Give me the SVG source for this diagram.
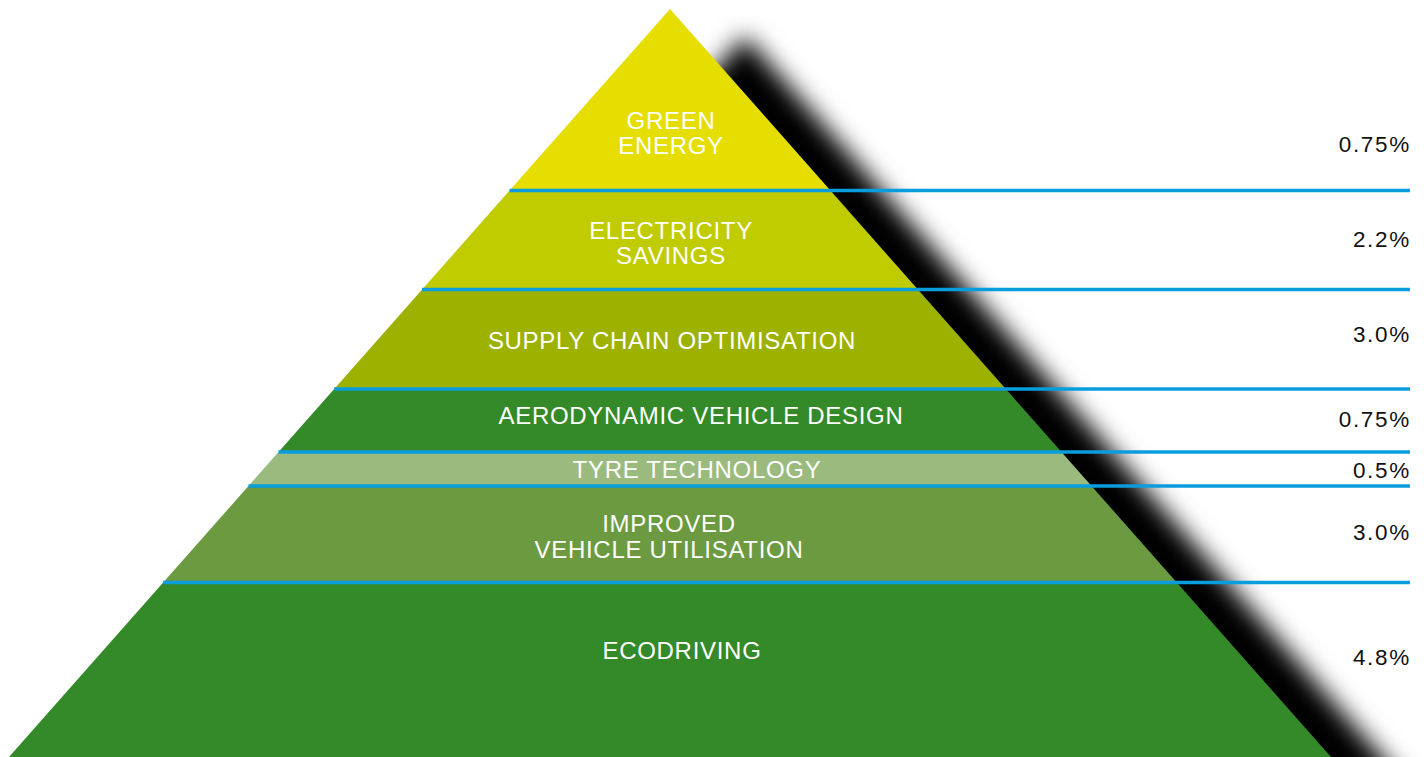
<svg xmlns="http://www.w3.org/2000/svg" width="1424" height="757" viewBox="0 0 1424 757">
  <defs>
    <filter id="blur" x="-20%" y="-20%" width="140%" height="140%">
      <feGaussianBlur stdDeviation="12"/>
    </filter>
    <clipPath id="tri">
      <polygon points="670,9 1331,757 9,757"/>
    </clipPath>
    <style>
      .lbl{font-family:"Liberation Sans",Arial,sans-serif;font-size:24px;fill:#ffffff;text-anchor:middle;letter-spacing:0.7px}
      .pct{font-family:"Liberation Sans",Arial,sans-serif;font-size:22.5px;fill:#111111;text-anchor:end;letter-spacing:1.7px}
      .sep{stroke:#0a9dde;stroke-width:3.5;fill:none}
    </style>
  </defs>
  <rect width="1424" height="757" fill="#ffffff"/>
  <polygon points="745,36 1406,784 84,784" fill="#000000" filter="url(#blur)"/>
  <g clip-path="url(#tri)">
    <rect id="band-green-energy" x="0" y="0" width="1424" height="191" fill="#e6de00"/>
    <rect id="band-electricity" x="0" y="190" width="1424" height="100" fill="#c0cc00"/>
    <rect id="band-supply" x="0" y="289" width="1424" height="100" fill="#9db100"/>
    <rect id="band-aero" x="0" y="389" width="1424" height="63" fill="#348a28"/>
    <rect id="band-tyre" x="0" y="452" width="1424" height="34" fill="#9bba7e"/>
    <rect id="band-improved" x="0" y="486" width="1424" height="97" fill="#6b9a40"/>
    <rect id="band-eco" x="0" y="582" width="1424" height="180" fill="#348a28"/>
  </g>
  <g id="connectors">
    <line class="sep" x1="509.6" y1="190.5" x2="1410" y2="190.5"/>
    <line class="sep" x1="422.1" y1="289.5" x2="1410" y2="289.5"/>
    <line class="sep" x1="334.2" y1="389" x2="1410" y2="389"/>
    <line class="sep" x1="278.5" y1="452" x2="1410" y2="452"/>
    <line class="sep" x1="248.5" y1="486" x2="1410" y2="486"/>
    <line class="sep" x1="163.2" y1="582.5" x2="1410" y2="582.5"/>
  </g>
  <g id="node-green-energy">
    <text class="lbl" x="671" y="129">GREEN</text>
    <text class="lbl" x="671" y="154.3">ENERGY</text>
    <text class="pct" x="1411" y="152.3">0.75%</text>
  </g>
  <g id="node-electricity">
    <text class="lbl" x="671" y="239">ELECTRICITY</text>
    <text class="lbl" x="671" y="264">SAVINGS</text>
    <text class="pct" x="1411" y="246.7">2.2%</text>
  </g>
  <g id="node-supply">
    <text class="lbl" x="672" y="349.3">SUPPLY CHAIN OPTIMISATION</text>
    <text class="pct" x="1411" y="342.3">3.0%</text>
  </g>
  <g id="node-aero">
    <text class="lbl" x="701" y="424.3">AERODYNAMIC VEHICLE DESIGN</text>
    <text class="pct" x="1411" y="427">0.75%</text>
  </g>
  <g id="node-tyre">
    <text class="lbl" x="697" y="478.3">TYRE TECHNOLOGY</text>
    <text class="pct" x="1411" y="478">0.5%</text>
  </g>
  <g id="node-improved">
    <text class="lbl" x="669" y="532.3">IMPROVED</text>
    <text class="lbl" x="669" y="558.3">VEHICLE UTILISATION</text>
    <text class="pct" x="1411" y="540">3.0%</text>
  </g>
  <g id="node-eco">
    <text class="lbl" x="682" y="659.3">ECODRIVING</text>
    <text class="pct" x="1411" y="665">4.8%</text>
  </g>
</svg>
